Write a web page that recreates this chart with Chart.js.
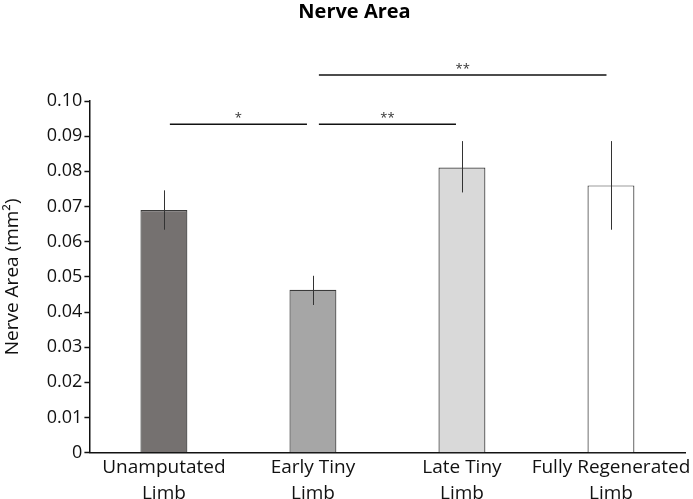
<!DOCTYPE html>
<html>
<head>
<meta charset="utf-8">
<script src="https://cdn.jsdelivr.net/npm/chart.js@4"></script>
<style>
  body { margin: 0; background: #fff; }
  #wrap { width: 693px; height: 499px; }
</style>
</head>
<body>
<div id="wrap"><canvas id="nerveChart"></canvas></div>
<script>
  // datos del grafico
  const categories = [['Unamputated', 'Limb'], ['Early Tiny', 'Limb'], ['Late Tiny', 'Limb'], ['Fully Regenerated', 'Limb']];
  const nerveArea = [0.069, 0.0463, 0.0811, 0.076];
  const errLow = [0.0634, 0.042, 0.074, 0.0634];
  const errHigh = [0.0746, 0.0503, 0.0886, 0.0886];
  const barColors = ['#757170', '#a6a6a6', '#d9d9d9', '#ffffff'];
  const yTicks = [0, 0.01, 0.02, 0.03, 0.04, 0.05, 0.06, 0.07, 0.08, 0.09, 0.10];

  // lineas de significancia (indice de categoria desde / hasta, altura, texto)
  const sigFrom = [0.04, 1.04, 1.04];
  const sigTo = [0.96, 1.96, 2.97];
  const sigY = [0.0934, 0.0934, 0.1074];
  const sigLabel = ['*', '**', '**'];

  const fontFam = '"Open Sans", "DejaVu Sans", sans-serif';

  // barras de error
  const errorBars = {
    id: 'errorBars',
    afterDatasetsDraw(chart) {
      const { ctx, scales: { x, y } } = chart;
      ctx.save();
      ctx.strokeStyle = '#333';
      ctx.lineWidth = 1;
      nerveArea.forEach((v, i) => {
        const px = Math.round(x.getPixelForValue(i)) + 0.5;
        ctx.beginPath();
        ctx.moveTo(px, y.getPixelForValue(errLow[i]));
        ctx.lineTo(px, y.getPixelForValue(errHigh[i]));
        ctx.stroke();
      });
      ctx.restore();
    }
  };

  // corchetes de significancia
  const sigLines = {
    id: 'sigLines',
    afterDraw(chart) {
      const { ctx, scales: { x, y } } = chart;
      const step = x.getPixelForValue(1) - x.getPixelForValue(0);
      ctx.save();
      ctx.strokeStyle = '#111';
      ctx.fillStyle = '#333';
      ctx.lineWidth = 1.5;
      ctx.font = '13px ' + fontFam;
      ctx.textAlign = 'center';
      ctx.textBaseline = 'alphabetic';
      sigFrom.forEach((f, i) => {
        const x1 = x.getPixelForValue(0) + f * step;
        const x2 = x.getPixelForValue(0) + sigTo[i] * step;
        const py = y.getPixelForValue(sigY[i]);
        ctx.beginPath();
        ctx.moveTo(x1, py);
        ctx.lineTo(x2, py);
        ctx.stroke();
        ctx.fillText(sigLabel[i], (x1 + x2) / 2, py - 2);
      });
      ctx.restore();
    }
  };

  new Chart(document.getElementById('nerveChart'), {
    type: 'bar',
    data: {
      labels: categories,
      datasets: [{
        data: nerveArea,
        backgroundColor: barColors,
        borderColor: '#3a3a3a',
        borderWidth: 1.2,
        barPercentage: 0.315,
        categoryPercentage: 1
      }]
    },
    options: {
      responsive: true,
      maintainAspectRatio: false,
      animation: false,
      layout: { padding: { left: 22, right: 6, top: 0, bottom: -9 } },
      plugins: {
        legend: { display: false },
        tooltip: { enabled: false },
        title: {
          display: true,
          text: 'Nerve Area',
          color: '#000',
          font: { family: fontFam, size: 20, weight: 'bold' },
          padding: { top: 0, bottom: 77 }
        }
      },
      scales: {
        x: {
          grid: { display: false, drawTicks: false },
          border: { color: '#111', width: 1.5 },
          ticks: {
            color: '#111',
            font: { family: fontFam, size: 19, lineHeight: 1.35 },
            padding: 2,
            maxRotation: 0,
            autoSkip: false
          }
        },
        y: {
          min: 0,
          max: 0.1,
          afterBuildTicks: (axis) => { axis.ticks = yTicks.map(v => ({ value: v })); },
          grid: { drawOnChartArea: false, tickLength: 5, color: '#111', tickWidth: 1.5 },
          border: { color: '#111', width: 1.5 },
          ticks: {
            color: '#111',
            font: { family: fontFam, size: 18 },
            padding: 2,
            callback: (v) => v === 0 ? '0' : v.toFixed(2)
          },
          title: {
            display: true,
            text: 'Nerve Area (mm²)',
            color: '#111',
            font: { family: fontFam, size: 19 },
            padding: { top: -21, bottom: 21 }
          }
        }
      }
    },
    plugins: [errorBars, sigLines]
  });
</script>
</body>
</html>
